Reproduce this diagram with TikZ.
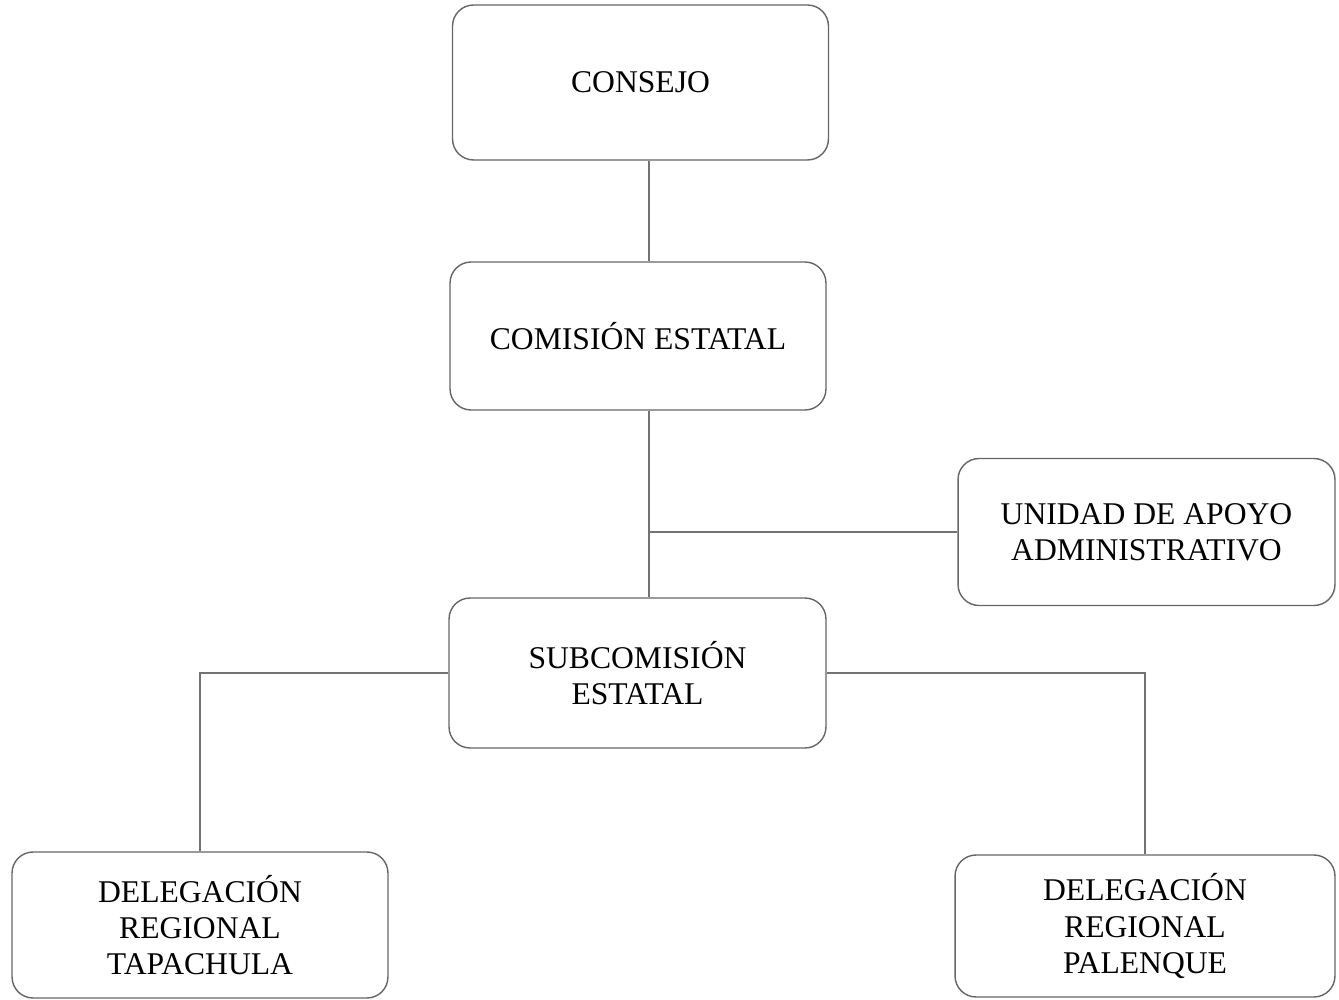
\documentclass[tikz,border=0pt]{standalone}
\usepackage{fontspec}
\setmainfont{Liberation Serif}
\usepackage{tikz}

\tikzset{
  caja/.style={draw=black!60, line width=0.8pt, rounded corners=0.42cm,
    minimum width=7.52cm, minimum height=2.96cm, align=center,
    font=\fontsize{18}{20.5}\selectfont},
  linea/.style={draw=black!55, line width=0.6pt}
}

\begin{document}
\begin{tikzpicture}[x=0.02cm, y=-0.02cm]
			\useasboundingbox (0,0) rectangle (1339,1000);

			% Cajas
			\node at (640.5,82.5) [caja, minimum height=3.1cm] (consejo) {CONSEJO};
			\node at (638,336) [caja] (comision) {COMISIÓN ESTATAL};
			\node at (1146.5,532) [caja, minimum width=7.54cm, minimum height=2.94cm] (unidad) {UNIDAD DE APOYO\\ADMINISTRATIVO};
			\node at (637.5,673) [caja, minimum width=7.54cm, minimum height=3cm] (subcomision) {SUBCOMISIÓN\\ESTATAL};
			\node at (200,925) [caja, minimum height=2.92cm] (tapachula) {DELEGACIÓN\\REGIONAL\\TAPACHULA};
			\node at (1145,926) [caja, minimum width=7.6cm, minimum height=2.84cm] (palenque) {DELEGACIÓN\\REGIONAL\\PALENQUE};

			% Eje vertical
			\coordinate (eje) at (649,532);

			% Lineas
			\draw[linea] (consejo.south -| eje) -- (comision.north -| eje);
			\draw[linea] (comision.south -| eje) -- (subcomision.north -| eje);
			\draw[linea] (eje) -- (unidad.west |- eje);
			\draw[linea] (subcomision.west) -| (tapachula.north);
			\draw[linea] (subcomision.east) -| (palenque.north);
		\end{tikzpicture}
\end{document}
